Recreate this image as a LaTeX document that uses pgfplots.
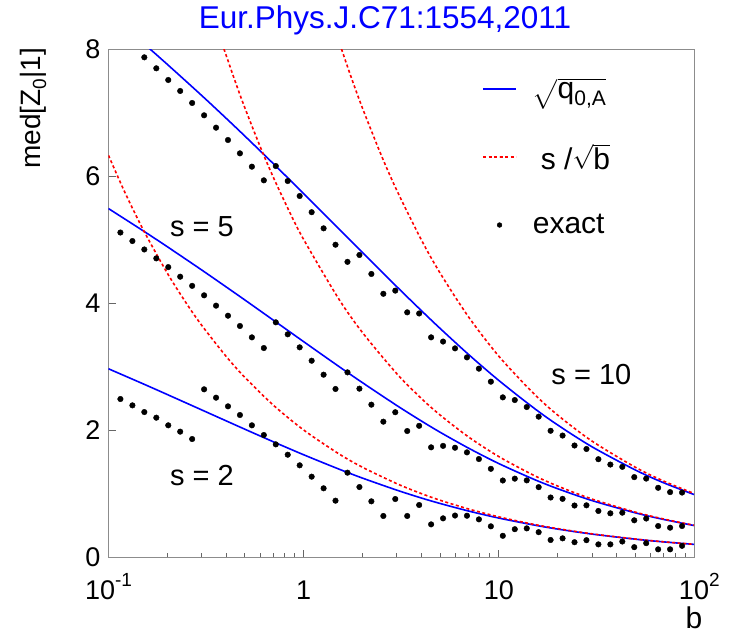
\documentclass[border=0pt]{standalone}
\usepackage{fontspec}
\setmainfont{Liberation Sans}
\usepackage{amsmath}
\usepackage{pgfplots}
\usepackage{pgfplotstable}
\pgfplotsset{compat=1.18}
\definecolor{rootblue}{RGB}{0,0,255}
\definecolor{rootred}{RGB}{255,0,0}
\definecolor{framegray}{RGB}{140,140,140}

% exact median significance (b, s=2, s=5, s=10)
\pgfplotstableread{
b      s2     s5     s10
0.1151 2.488  5.110  nan
0.1326 2.388  4.976  nan
0.1526 2.283  4.843  7.869
0.1758 2.194  4.703  7.696
0.2024 2.074  4.565  7.512
0.2330 1.974  4.414  7.339
0.2683 1.858  4.270  7.150
0.3089 2.641  4.121  6.956
0.3557 2.509  3.958  6.761
0.4095 2.373  3.800  6.567
0.4715 2.236  3.638  6.357
0.5429 2.074  3.459  6.147
0.6251 1.921  3.291  5.932
0.7197 1.774  3.696  6.157
0.8286 1.611  3.507  5.921
0.9541 1.444  3.302  5.685
1.099  1.265  3.091  5.430
1.265  1.082  2.871  5.176
1.456  0.887  2.646  4.918
1.677  1.328  2.908  4.648
1.931  1.102  2.651  4.756
2.223  0.877  2.399  4.457
2.560  0.646  2.131  4.145
2.947  0.913  2.280  4.195
3.393  0.646  1.984  3.853
3.907  0.819  2.066  3.835
4.498  0.514  1.727  3.459
5.179  0.609  1.750  3.393
5.964  0.653  1.721  3.286
6.866  0.650  1.648  3.144
7.906  0.593  1.543  2.966
9.103  0.483  1.389  2.761
10.48  0.334  1.205  2.514
12.07  0.438  1.234  2.472
13.90  0.451  1.207  2.362
16.00  0.391  1.100  2.210
18.42  0.268  0.937  1.988
21.21  0.294  0.916  1.913
24.42  0.233  0.811  1.756
28.12  0.265  0.814  1.701
32.37  0.199  0.725  1.540
37.28  0.199  0.688  1.456
42.92  0.244  0.698  1.420
49.42  0.155  0.578  1.258
56.90  0.218  0.606  1.235
65.51  0.121  0.488  1.090
75.43  0.121  0.462  1.022
86.85  0.176  0.488  1.015
}\exact

\newcommand{\sups}[1]{\raisebox{12.5pt}{\fontsize{19}{19}\selectfont #1}}

\begin{document}
\begin{tikzpicture}
\useasboundingbox (0pt,0pt) rectangle (730pt,638pt);
\begin{axis}[
  at={(108.5pt,81pt)}, anchor=south west,
  width=585.5pt, height=508pt, scale only axis,
  xmode=log, xmin=0.1, xmax=100, ymin=0, ymax=8,
  xtick={0.1,1,10,100},
  xticklabels={10\sups{-1},1,10,10\rlap{\sups{2}}},
  ytick={0,2,4,6,8}, yticklabels={0,2,4,6,8},
  minor y tick num=0,
  tick align=inside, tick pos=left,
  major tick length=7.5pt, minor tick length=3.8pt,
  axis line style={draw=framegray, line width=0.9pt},
  every tick/.style={black!60, line width=0.9pt},
  ticklabel style={font=\fontsize{27}{27}\selectfont, inner sep=0pt},
  xticklabel style={anchor=base, yshift=-42pt},
  yticklabel style={anchor=east, xshift=-8pt},
  legend style={draw=none, fill=none, inner sep=0pt, at={(0.638,0.943)}, anchor=north west,
    font=\fontsize{30}{30}\selectfont, row sep=44pt, column sep=16pt,
    nodes={inner sep=0pt}},
  legend cell align=left,
  legend image code/.code={\draw[mark repeat=2,mark phase=2,#1] plot coordinates {(0pt,0pt) (16.5pt,0pt) (33pt,0pt)};},
]
\addlegendimage{rootblue, line width=1.6pt}
\addlegendentry{$\sqrt{\text{q}_{\text{0,A}}}$}
\addlegendimage{rootred, line width=1.6pt, dash pattern=on 3pt off 2.5pt}
\addlegendentry{\hspace{8pt}s /$\sqrt{\text{b}}$}
\addlegendimage{only marks, mark=*, mark size=2.4pt, black}
\addlegendentry{exact}

% asymptotic sqrt(q0,A)
\addplot[forget plot, rootblue, line width=1.6pt, smooth] coordinates {
(0.1,2.964) (0.15,2.729) (0.2,2.559) (0.3,2.317) (0.4,2.145) (0.5,2.012) (0.7,1.814)
(1,1.610) (1.5,1.390) (2,1.243) (3,1.053) (4,0.930) (5,0.843) (7,0.724) (10,0.613)
(15,0.506) (20,0.440) (30,0.361) (50,0.281) (70,0.238) (100,0.199)};
\addplot[forget plot, rootblue, line width=1.6pt, smooth] coordinates {
(0.1,5.487) (0.15,5.140) (0.2,4.887) (0.3,4.521) (0.4,4.255) (0.5,4.047) (0.7,3.729)
(1,3.391) (1.5,3.010) (2,2.746) (3,2.386) (4,2.144) (5,1.965) (7,1.714) (10,1.471)
(15,1.228) (20,1.076) (30,0.889) (50,0.696) (70,0.591) (100,0.496)};
\addplot[forget plot, rootblue, line width=1.6pt, smooth] coordinates {
(0.1,8.557) (0.15,8.097) (0.2,7.759) (0.3,7.269) (0.4,6.911) (0.5,6.628) (0.7,6.193)
(1,5.723) (1.5,5.182) (2,4.796) (3,4.257) (4,3.883) (5,3.600) (7,3.189) (10,2.780)
(15,2.354) (20,2.080) (30,1.736) (50,1.371) (70,1.168) (100,0.984)};

% s / sqrt(b)
\addplot[forget plot, rootred, line width=1.6pt, dash pattern=on 3pt off 2.5pt, smooth] coordinates {
(0.1,6.325) (0.12,5.774) (0.15,5.164) (0.2,4.472) (0.25,4.000) (0.3,3.651) (0.4,3.162)
(0.5,2.828) (0.7,2.390) (1,2.000) (1.5,1.633) (2,1.414) (3,1.155) (4,1.000) (5,0.894)
(7,0.756) (10,0.632) (15,0.516) (20,0.447) (30,0.365) (50,0.283) (70,0.239) (100,0.200)};
\addplot[forget plot, rootred, line width=1.6pt, dash pattern=on 3pt off 2.5pt, smooth] coordinates {
(0.390625,8) (0.45,7.454) (0.5,7.071) (0.6,6.455) (0.7,5.976) (0.85,5.423) (1,5.000)
(1.5,4.082) (2,3.536) (3,2.887) (4,2.500) (5,2.236) (7,1.890) (10,1.581) (15,1.291)
(20,1.118) (30,0.913) (50,0.707) (70,0.598) (100,0.500)};
\addplot[forget plot, rootred, line width=1.6pt, dash pattern=on 3pt off 2.5pt, smooth] coordinates {
(1.5625,8) (1.75,7.559) (2,7.071) (2.5,6.325) (3,5.774) (4,5.000) (5,4.472) (7,3.780)
(10,3.162) (15,2.582) (20,2.236) (30,1.826) (50,1.414) (70,1.195) (100,1.000)};

% exact
\addplot[forget plot, only marks, mark=*, mark size=2.8pt, black] table[x=b, y=s2] {\exact};
\addplot[forget plot, only marks, mark=*, mark size=2.8pt, black] table[x=b, y=s5] {\exact};
\addplot[forget plot, only marks, mark=*, mark size=2.8pt, black] table[x=b, y=s10] {\exact};

\node[font=\fontsize{29}{29}\selectfont] at (axis cs:0.301,5.2) {s = 5};
\node[font=\fontsize{29}{29}\selectfont] at (axis cs:0.301,1.28) {s = 2};
\node[font=\fontsize{29}{29}\selectfont] at (axis cs:29.8,2.88) {s = 10};
\end{axis}
\node[text=rootblue, font=\fontsize{31.5}{31.5}\selectfont] at (385pt,618pt) {Eur.Phys.J.C71:1554,2011};
\node[rotate=90, anchor=east, font=\fontsize{28}{28}\selectfont, inner sep=0pt] at (33pt,590pt)
  {med[Z\raisebox{-6pt}{\fontsize{19}{19}\selectfont 0}|1]};
\node[font=\fontsize{30}{30}\selectfont, inner sep=0pt] at (694pt,20pt) {b};
\end{tikzpicture}
\end{document}
